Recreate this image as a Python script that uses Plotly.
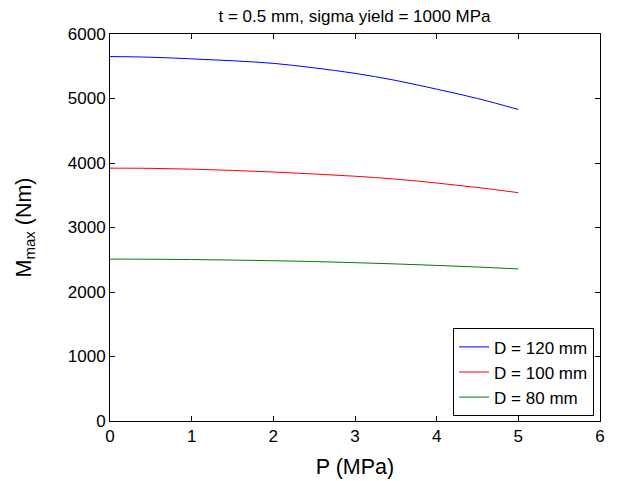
import plotly.graph_objects as go

# Pressure (MPa)
pressure = [0, 0.5, 1, 1.5, 2, 2.5, 3, 3.5, 4, 4.5, 5]

# Maximum moment (Nm) per tube diameter
m_d120 = [5650, 5640, 5615, 5585, 5545, 5475, 5390, 5280, 5145, 5000, 4830]
m_d100 = [3920, 3917, 3905, 3885, 3860, 3830, 3795, 3750, 3690, 3620, 3540]
m_d80 = [2510, 2508, 2503, 2495, 2485, 2472, 2455, 2435, 2412, 2387, 2358]

series = [
    ("D = 120 mm", m_d120, "#0000ff"),
    ("D = 100 mm", m_d100, "#ff0000"),
    ("D = 80 mm", m_d80, "#008000"),
]

fig = go.Figure()
for name, vals, color in series:
    fig.add_trace(
        go.Scatter(
            x=pressure,
            y=vals,
            mode="lines",
            name=name,
            line={"color": color, "width": 1, "shape": "spline"},
        )
    )

axis_style = dict(
    showline=True,
    linecolor="black",
    linewidth=1,
    mirror="ticks",
    ticks="inside",
    ticklen=5,
    tickcolor="black",
    showgrid=False,
    zeroline=False,
    tickfont={"size": 17, "color": "black"},
)

fig.update_xaxes(
    range=[0, 6],
    tickvals=[0, 1, 2, 3, 4, 5, 6],
    title={"text": "P (MPa)", "font": {"size": 21.5, "color": "black"}, "standoff": 13},
    **axis_style,
)
fig.update_yaxes(
    range=[0, 6000],
    tickvals=[0, 1000, 2000, 3000, 4000, 5000, 6000],
    title={"text": "M<sub>max</sub> (Nm)", "font": {"size": 21.5, "color": "black"}, "standoff": 30},
    **axis_style,
)

# the page body adds an 8px offset, so the figure is shrunk to fit the window
fig.update_layout(
    width=609,
    height=473,
    margin={"l": 102, "r": 17, "t": 26, "b": 60, "autoexpand": False},
    paper_bgcolor="white",
    plot_bgcolor="white",
    font={"family": "Arial, Liberation Sans, sans-serif", "color": "black"},
    title={
        "text": "t = 0.5 mm, sigma yield = 1000 MPa",
        "font": {"size": 17, "color": "black"},
        "x": 0.569,
        "xanchor": "center",
        "y": 0.995,
        "yanchor": "top",
        "pad": {"t": 0, "b": 0},
    },
    showlegend=True,
    legend={
        "x": 0.988,
        "y": 0.012,
        "xanchor": "right",
        "yanchor": "bottom",
        "bordercolor": "black",
        "borderwidth": 1,
        "bgcolor": "white",
        "font": {"size": 17, "color": "black"},
        "tracegroupgap": 0,
        "itemwidth": 30,
    },
)

fig.write_html("out.html")
